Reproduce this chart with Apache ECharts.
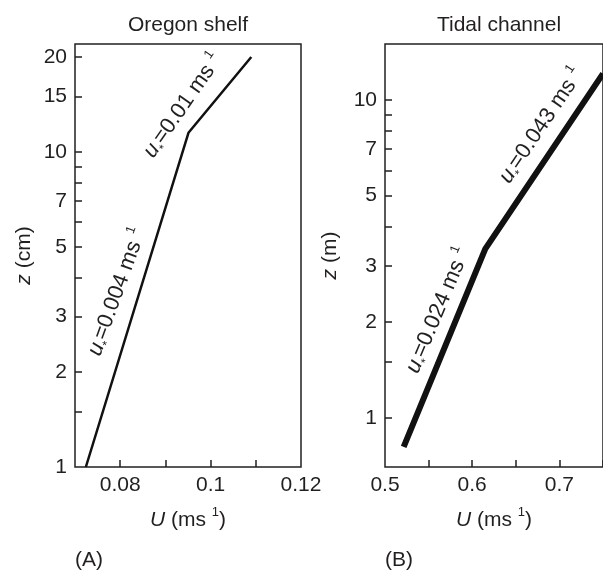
<!DOCTYPE html>
<html>
<head>
<meta charset="utf-8">
<script src="https://cdn.jsdelivr.net/npm/echarts@6/dist/echarts.min.js"></script>
<style>
  html, body { margin: 0; padding: 0; background: #fff; }
  #main { width: 603px; height: 570px; }
</style>
</head>
<body>
<div id="main"></div>
<script>
// Oregon shelf velocity profile (U in m/s, z in cm)
const shelfU = [0.0724, 0.0951, 0.109];
const shelfZ = [1, 11.5, 20];
// Tidal channel velocity profile (U in m/s, z in m)
const channelU = [0.5214, 0.615, 0.75];
const channelZ = [0.81, 3.4, 12.1];

const shelfXLabels = [0.08, 0.1, 0.12];
const shelfXTicks = [0.08, 0.09, 0.1, 0.11];
const shelfYLabels = [1, 2, 3, 5, 7, 10, 15, 20];
const shelfYTicks = [1.5, 2, 3, 4, 5, 6, 7, 8, 9, 10, 15, 20];
const channelXLabels = [0.5, 0.6, 0.7];
const channelXTicks = [0.55, 0.6, 0.65, 0.7, 0.75];
const channelYLabels = [1, 2, 3, 5, 7, 10];
const channelYTicks = [1, 1.5, 2, 3, 4, 5, 6, 7, 8, 9, 10];

// friction velocities written along each segment
const ustarValues = ['0.01', '0.004', '0.043', '0.024'];
// where they sit: grid, U, z, angle
const ustarAnchors = [
  [0, 0.0939, 14.0, 55],
  [0, 0.0793, 3.59, 70],
  [1, 0.6794, 8.3, 56],
  [1, 0.5609, 2.175, 67]
];

const FONT = 'Liberation Sans, Arial, Helvetica, sans-serif';
const INK = '#231f20';
const FS = 21;

function richFor(size) {
  return {
    i: { fontStyle: 'italic', fontSize: size, fontFamily: FONT, color: INK, fill: INK },
    sub: { fontSize: 12, fontFamily: FONT, color: INK, fill: INK, verticalAlign: 'bottom' },
    sup: { fontSize: 13, fontFamily: FONT, color: INK, fill: INK, verticalAlign: 'top', padding: [0, 0, 16, 0] }
  };
}

const chart = echarts.init(document.getElementById('main'));

function xAxisOf(grid, min, max, ticks, labels, gap) {
  return {
    gridIndex: grid, type: 'value', min: min, max: max,
    axisLine: { show: false },
    splitLine: { show: false },
    axisTick: { inside: true, length: 7, customValues: ticks, lineStyle: { color: INK, width: 1.5 } },
    axisLabel: { customValues: labels, formatter: v => String(v), margin: 8,
      fontSize: FS, fontFamily: FONT, color: INK },
    name: '{i|U} (ms {sup|1})', nameLocation: 'middle', nameGap: gap,
    nameTextStyle: { fontSize: FS, fontFamily: FONT, color: INK, rich: richFor(FS) }
  };
}

function yAxisOf(grid, min, max, ticks, labels, unit, gap) {
  return {
    gridIndex: grid, type: 'log', logBase: 10, min: min, max: max,
    axisLine: { show: false },
    splitLine: { show: false },
    minorTick: { show: false },
    axisTick: { inside: true, length: 7, customValues: ticks, lineStyle: { color: INK, width: 1.5 } },
    axisLabel: { customValues: labels, formatter: v => String(Math.round(v)), margin: 8,
      fontSize: FS, fontFamily: FONT, color: INK },
    name: '{i|z} (' + unit + ')', nameLocation: 'middle', nameGap: gap, nameRotate: 90,
    nameTextStyle: { fontSize: FS, fontFamily: FONT, color: INK, rich: richFor(FS) }
  };
}

chart.setOption({
  animation: false,
  backgroundColor: '#fff',
  grid: [
    { left: 75, top: 44, width: 226, height: 423, show: true, borderColor: INK, borderWidth: 1.5 },
    { left: 385, top: 44, width: 226, height: 423, show: true, borderColor: INK, borderWidth: 1.5 }
  ],
  xAxis: [
    xAxisOf(0, 0.07, 0.12, shelfXTicks, shelfXLabels, 39),
    xAxisOf(1, 0.5, 0.75, channelXTicks, channelXLabels, 39)
  ],
  yAxis: [
    yAxisOf(0, 1, 22, shelfYTicks, shelfYLabels, 'cm', 40),
    yAxisOf(1, 0.7, 15, channelYTicks, channelYLabels, 'm', 44)
  ],
  series: [
    {
      type: 'line', xAxisIndex: 0, yAxisIndex: 0, symbol: 'none',
      data: shelfU.map((u, i) => [u, shelfZ[i]]),
      lineStyle: { color: '#111', width: 2.5 }
    },
    {
      type: 'line', xAxisIndex: 1, yAxisIndex: 1, symbol: 'none',
      data: channelU.map((u, i) => [u, channelZ[i]]),
      lineStyle: { color: '#111', width: 6 }
    }
  ]
});

function plainText(x, y, text, align) {
  return {
    type: 'text', x: x, y: y,
    style: { text: text, fontSize: FS, fontFamily: FONT, fill: INK, align: align, verticalAlign: 'middle' }
  };
}

const graphics = [
  plainText(188, 25, 'Oregon shelf', 'center'),
  plainText(499, 25, 'Tidal channel', 'center'),
  plainText(75, 560, '(A)', 'left'),
  plainText(385, 560, '(B)', 'left')
];

ustarAnchors.forEach((a, k) => {
  const p = chart.convertToPixel({ gridIndex: a[0] }, [a[1], a[2]]);
  graphics.push({
    type: 'text', x: p[0], y: p[1], rotation: a[3] * Math.PI / 180,
    style: {
      text: '{i|u}{sub|*}=' + ustarValues[k] + ' ms {sup|1}',
      rich: richFor(22), fontSize: 22, fontFamily: FONT, fill: INK,
      align: 'center', verticalAlign: 'middle'
    }
  });
});

chart.setOption({ graphic: graphics });
</script>
</body>
</html>
